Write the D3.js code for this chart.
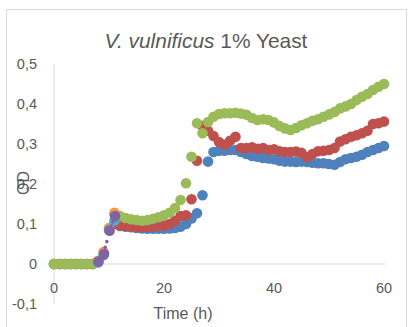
<!DOCTYPE html>
<html><head><meta charset="utf-8">
<script src="https://cdn.jsdelivr.net/npm/d3@7"></script>
<style>body{margin:0;background:#fff}svg{display:block}text{font-family:"Liberation Sans",Arial,sans-serif}</style>
</head><body><svg id="c" width="408" height="327"></svg>
<script>
// ---- data ----
const times = d3.range(0, 61); // hours, 1 h sampling (tick positions only)
const blueOD = [0,0,0,0,0,0,0,0,null,null,null,0.100,0.095,0.093,0.092,0.090,0.089,0.088,0.088,0.088,0.088,0.089,0.090,0.093,0.100,0.114,0.127,0.172,0.256,0.280,0.283,0.283,0.285,0.285,0.280,0.275,0.270,0.268,0.265,0.264,0.262,0.258,0.256,0.256,0.255,0.256,0.255,0.253,0.252,0.252,0.250,0.248,0.255,0.262,0.265,0.268,0.273,0.280,0.285,0.290,0.295];
const redOD = [0,0,0,0,0,0,0,0,null,null,null,0.100,0.097,0.095,0.093,0.093,0.092,0.093,0.094,0.095,0.096,0.100,0.108,0.120,0.122,0.162,0.258,0.345,0.333,0.320,0.305,0.298,0.308,0.318,0.290,0.290,0.292,0.288,0.290,0.285,0.287,0.282,0.280,0.280,0.281,0.278,0.267,0.275,0.282,0.283,0.285,0.290,0.306,0.312,0.318,0.322,0.327,0.333,0.350,0.352,0.356];
const greenOD = [0,0,0,0,0,0,0,0,null,null,null,0.125,0.120,0.115,0.112,0.110,0.108,0.110,0.113,0.117,0.122,0.128,0.140,0.160,0.202,0.268,0.352,0.327,0.355,0.368,0.375,0.377,0.377,0.378,0.376,0.373,0.365,0.360,0.362,0.360,0.354,0.345,0.339,0.335,0.340,0.347,0.352,0.358,0.362,0.368,0.374,0.380,0.389,0.394,0.400,0.410,0.418,0.425,0.435,0.443,0.450];
const earlyTimes = [8, 9, 10, 11];
const orangeOD = [0.008, 0.030, 0.090, 0.128];
const cyanOD = [0.004, 0.022, 0.085, 0.108];
const purpleOD = [0.006, 0.025, 0.083, 0.120];
const smallTimes = [8.3, 8.6, 9.3, 9.6, 10.4, 10.7];
const smallOD = [0.008, 0.015, 0.042, 0.056, 0.095, 0.105];
const xTicks = [0, 20, 40, 60];
const yTicks = [-0.1, 0, 0.1, 0.2, 0.3, 0.4, 0.5];
const titleItalic = "V. vulnificus";
const titleRest = " 1% Yeast";
const xTitle = "Time (h)";
const yTitle = "OD";

// ---- drawing ----
const svg = d3.select("#c");
const textCol = "#595959";
svg.append("rect").attr("x",6.5).attr("y",9.5).attr("width",400).attr("height",330)
  .attr("fill","#fff").attr("stroke","#d9d9d9");

const x = d3.scaleLinear().domain([0,60]).range([54,384]);
const y = d3.scaleLinear().domain([-0.1,0.5]).range([304,64]);

// axes lines
svg.append("line").attr("x1",x(0)).attr("x2",x(0)).attr("y1",y(0.5)).attr("y2",y(-0.1)).attr("stroke","#d9d9d9");
svg.append("line").attr("x1",x(0)).attr("x2",x(60)+1).attr("y1",y(0)).attr("y2",y(0)).attr("stroke","#d9d9d9");

const fmt = v => d3.format(".1f")(v).replace(".", ",").replace("−","-");
const yAx = svg.append("g");
yAx.selectAll("text").data(yTicks).join("text")
  .attr("x",37).attr("y",d=>y(d)).attr("dy","0.35em").attr("text-anchor","end")
  .attr("font-size",14.5).attr("fill",textCol).text(d=> d===0 ? "0" : fmt(d));
const xAx = svg.append("g");
xAx.selectAll("text").data(xTicks).join("text")
  .attr("x",d=>x(d)).attr("y",288).attr("dy","0.35em").attr("text-anchor","middle")
  .attr("font-size",14.5).attr("fill",textCol).text(d=>d);

svg.append("text").attr("x",183).attr("y",319).attr("text-anchor","middle")
  .attr("font-size",16).attr("fill",textCol).text(xTitle);
svg.append("text").attr("transform","translate(29,183) rotate(-90)").attr("text-anchor","middle")
  .attr("font-size",16).attr("fill",textCol).text(yTitle);

const title = svg.append("text").attr("x",206).attr("y",48).attr("text-anchor","middle")
  .attr("font-size",19).attr("fill",textCol);
title.append("tspan").attr("font-style","italic").text(titleItalic);
title.append("tspan").text(titleRest);
const tw = title.node().getComputedTextLength();
title.attr("font-size", 19*203/tw);

function dots(ts, vals, color, r){
  const pts = ts.map((t,i)=>({t, v: vals[i]})).filter(d=>d.v!==null);
  svg.append("g").selectAll("circle").data(pts).join("circle")
    .attr("cx",d=>x(d.t)).attr("cy",d=>y(d.v)).attr("r",r).attr("fill",color);
}
const R = 5.3;
dots(times, blueOD, "#4f81bd", R);
dots(times, redOD, "#c0504d", R);
dots(times, greenOD, "#9bbb59", R);
dots(earlyTimes, orangeOD, "#f79646", R);
dots(earlyTimes, cyanOD, "#4bacc6", R);
dots(earlyTimes.map(t=>t+0.1), purpleOD, "#8064a2", R);
dots(smallTimes, smallOD, "#8064a2", 1.8);
</script></body></html>
